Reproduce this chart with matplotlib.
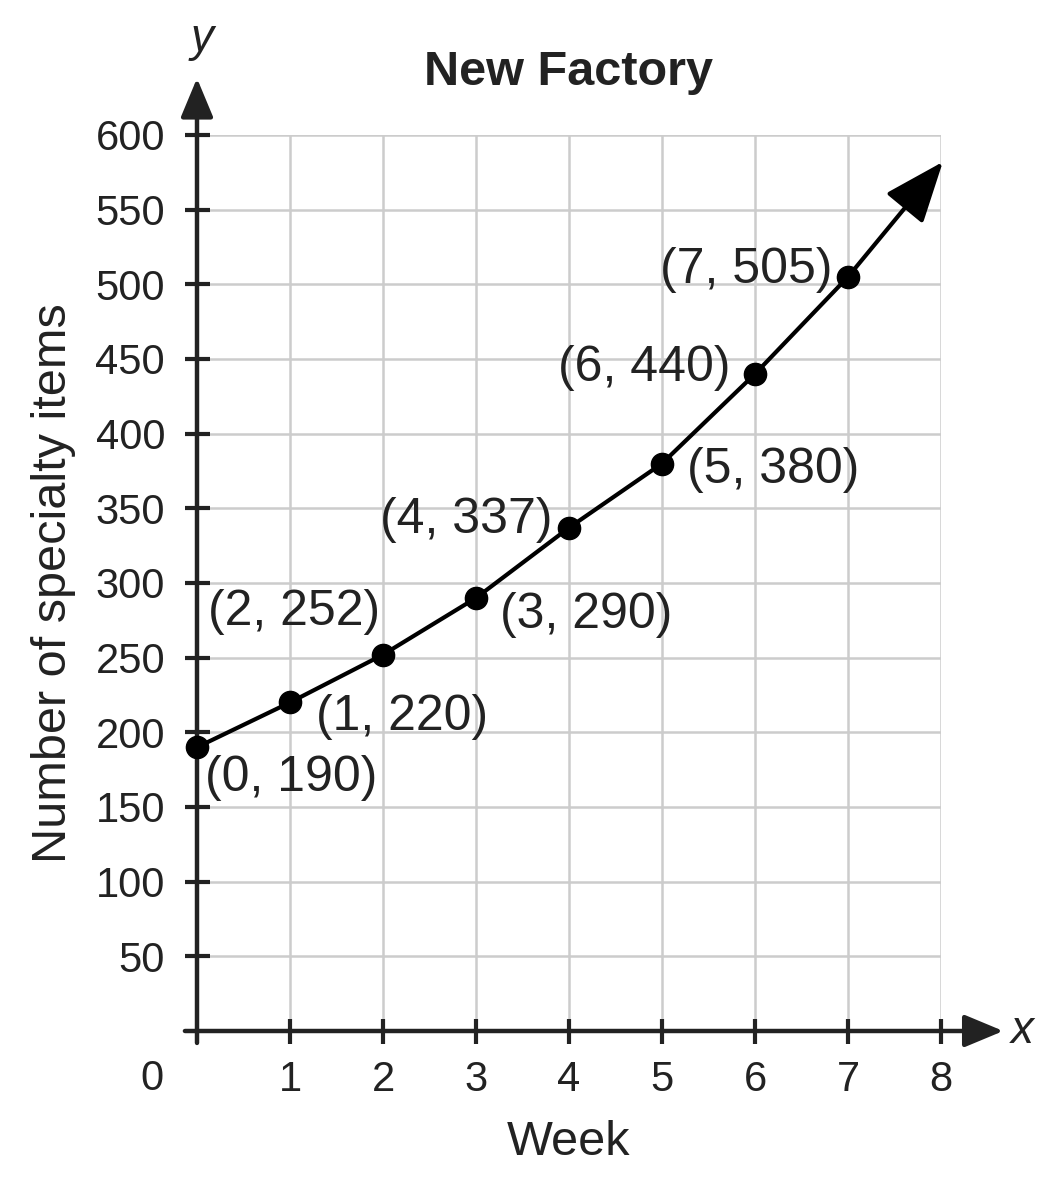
import matplotlib

matplotlib.use("Agg")

import matplotlib.pyplot as plt

# Data
weeks = [0, 1, 2, 3, 4, 5, 6, 7]
items = [190, 220, 252, 290, 337, 380, 440, 505]
curve_end = (8.02, 582)  # where the arrow head of the curve points
x_ticks = [1, 2, 3, 4, 5, 6, 7, 8]
y_ticks = [50, 100, 150, 200, 250, 300, 350, 400, 450, 500, 550, 600]

# label placement: (dx, dy in pixels, horizontal alignment)
label_offsets = [
    (8, -31, "left"),
    (26, -15, "left"),
    (-3, 43, "right"),
    (24, -17, "left"),
    (-16, 8, "right"),
    (25, -6, "left"),
    (-25, 6, "right"),
    (-15, 7, "right"),
]

plt.rcParams["font.family"] = ["Liberation Sans", "DejaVu Sans"]
AXIS_COLOR = "#222222"
GRID_COLOR = "#cccccc"

fig = plt.figure(figsize=(10.63, 11.83), dpi=100)
ax = fig.add_axes([197 / 1063, 1 - 1031 / 1183, (941 - 197) / 1063, (1031 - 135) / 1183])
ax.set_xlim(0, 8)
ax.set_ylim(0, 600)
for side in ax.spines.values():
    side.set_visible(False)

# grid
for xv in x_ticks:
    ax.axvline(xv, color=GRID_COLOR, lw=1.8, zorder=1)
for yv in y_ticks:
    ax.axhline(yv, color=GRID_COLOR, lw=1.8, zorder=1)

# axes with arrows
axis_arrow = dict(arrowstyle="-|>,head_length=1.2,head_width=0.5", mutation_scale=20,
                  lw=3.2, color=AXIS_COLOR, shrinkA=0, shrinkB=0)
ax.annotate("", xy=(8.67, 0), xytext=(-0.13, 0), arrowprops=axis_arrow,
            annotation_clip=False, zorder=3)
ax.annotate("", xy=(0, 638), xytext=(0, -8), arrowprops=axis_arrow,
            annotation_clip=False, zorder=3)

ax.set_xticks(x_ticks)
ax.set_yticks(y_ticks)
ax.tick_params(direction="inout", length=18, width=3, color=AXIS_COLOR,
               labelsize=30, labelcolor="#222222")
ax.tick_params(axis="x", pad=12)
ax.tick_params(axis="y", pad=14)
ax.text(-0.48, -32, "0", fontsize=30, color="#222222", ha="center", va="center",
        clip_on=False)

# curve and points
ax.plot(weeks, items, color="black", lw=3, zorder=4, clip_on=False)
ax.annotate("", xy=curve_end, xytext=(weeks[-1], items[-1]),
            arrowprops=dict(arrowstyle="-|>,head_length=1.9,head_width=0.75",
                            mutation_scale=20, lw=3, color="black",
                            shrinkA=0, shrinkB=0),
            annotation_clip=False, zorder=4)
ax.scatter(weeks, items, s=16 ** 2, color="black", zorder=5, clip_on=False)

for wk, val, (dx, dy, ha) in zip(weeks, items, label_offsets):
    ax.annotate(f"({wk}, {val})", xy=(wk, val), xytext=(dx, dy),
                textcoords="offset pixels", ha=ha, va="center",
                fontsize=36, color="#222222", zorder=6)

ax.set_title("New Factory", fontsize=35, fontweight="bold", color="#222222", pad=36)
ax.set_xlabel("Week", fontsize=35, color="#222222", labelpad=14)
ax.set_ylabel("Number of specialty items", fontsize=35, color="#222222", labelpad=14)

ax.text(0.05, 664, "y", fontsize=33, style="italic", color="#222222",
        ha="center", va="center", clip_on=False)
ax.text(8.88, 0, "x", fontsize=33, style="italic", color="#222222",
        ha="center", va="center", clip_on=False)

fig.savefig("out.png", dpi=100)
